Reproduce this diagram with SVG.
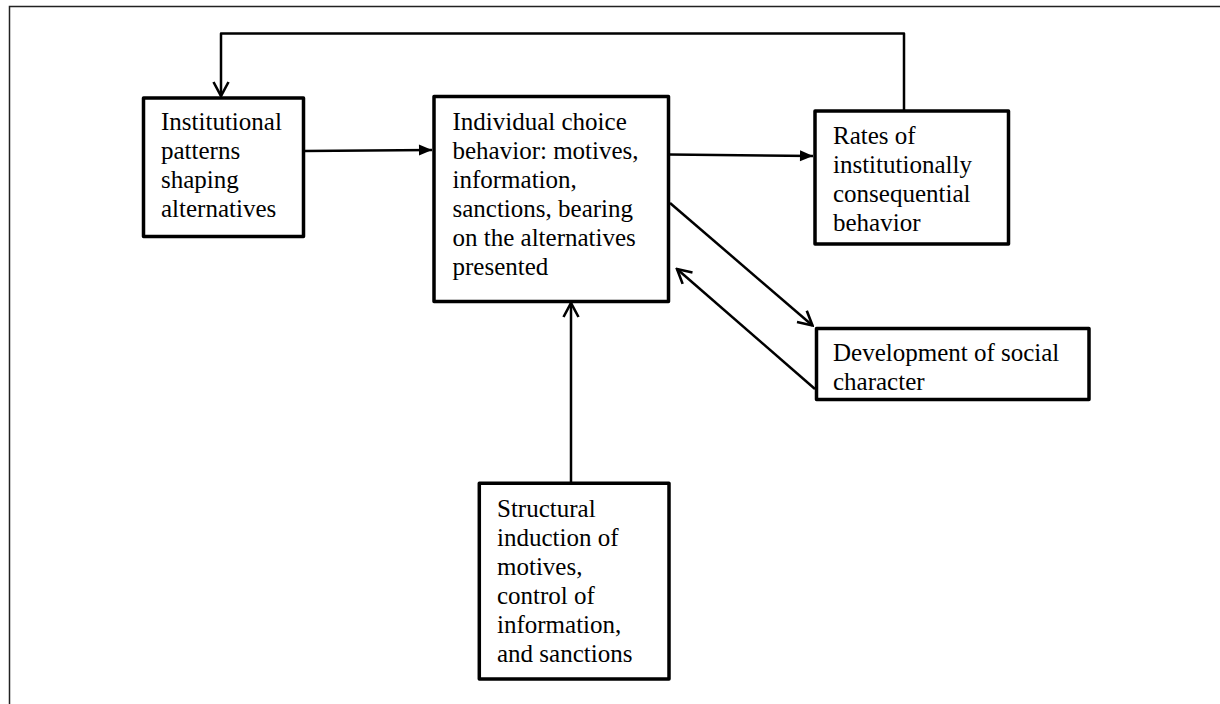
<svg xmlns="http://www.w3.org/2000/svg" width="1220" height="704" viewBox="0 0 1220 704">
<style>
.box{fill:#fff;stroke:#000;stroke-width:3.5;stroke-linejoin:round}
.lbl{font-size:25px;fill:#000}
.con{fill:none;stroke:#000;stroke-width:2.5;stroke-linejoin:round}
</style>
<defs>
<marker id="open" viewBox="-16 -10 18 20" refX="0" refY="0" markerWidth="18" markerHeight="20" markerUnits="userSpaceOnUse" orient="auto">
<path d="M-14,-7.5 L0,0 L-14,7.5" fill="none" stroke="#000" stroke-width="2.6" stroke-linejoin="miter"/>
</marker>
<marker id="solid" viewBox="-14 -8 15 16" refX="0" refY="0" markerWidth="15" markerHeight="16" markerUnits="userSpaceOnUse" orient="auto">
<path d="M-13,-5.5 L0,0 L-13,5.5 z" fill="#000"/>
</marker>
</defs>
<rect width="1220" height="704" fill="#fff"/>
<path d="M9.5,704 V6.5 H1220" fill="none" stroke="#222" stroke-width="1.5"/>
<g id="connectors">
<path class="con" d="M904,111 V33.5 H221 V96" marker-end="url(#open)"/>
<path class="con" d="M304,151 L432,150" marker-end="url(#solid)"/>
<path class="con" d="M669,154.5 L813,156" marker-end="url(#solid)"/>
<path class="con" d="M670,203 L812.5,325.5" marker-end="url(#open)"/>
<path class="con" d="M815,389 L677,269" marker-end="url(#open)"/>
<path class="con" d="M571,483 V303" marker-end="url(#open)"/>
</g>
<g font-family="'Liberation Serif', 'DejaVu Serif', serif">
<g id="institutional">
<rect class="box" x="143.5" y="98" width="160" height="138.5"/>
<text class="lbl"><tspan x="161" y="130">Institutional</tspan><tspan x="161" y="159">patterns</tspan><tspan x="161" y="188">shaping</tspan><tspan x="161" y="217">alternatives</tspan></text>
</g>
<g id="individual">
<rect class="box" x="434" y="96.5" width="234.5" height="205"/>
<text class="lbl"><tspan x="452.5" y="130">Individual choice</tspan><tspan x="452.5" y="159">behavior: motives,</tspan><tspan x="452.5" y="188">information,</tspan><tspan x="452.5" y="217">sanctions, bearing</tspan><tspan x="452.5" y="246">on the alternatives</tspan><tspan x="452.5" y="275">presented</tspan></text>
</g>
<g id="rates">
<rect class="box" x="815" y="111" width="193.5" height="133"/>
<text class="lbl"><tspan x="833" y="144">Rates of</tspan><tspan x="833" y="173">institutionally</tspan><tspan x="833" y="202">consequential</tspan><tspan x="833" y="231">behavior</tspan></text>
</g>
<g id="development">
<rect class="box" x="816.5" y="328.5" width="272.5" height="71"/>
<text class="lbl"><tspan x="833" y="361">Development of social</tspan><tspan x="833" y="390">character</tspan></text>
</g>
<g id="structural">
<rect class="box" x="479.3" y="483.3" width="189.7" height="195.7"/>
<text class="lbl"><tspan x="497" y="517">Structural</tspan><tspan x="497" y="546">induction of</tspan><tspan x="497" y="575">motives,</tspan><tspan x="497" y="604">control of</tspan><tspan x="497" y="633">information,</tspan><tspan x="497" y="662">and sanctions</tspan></text>
</g>
</g>
</svg>
